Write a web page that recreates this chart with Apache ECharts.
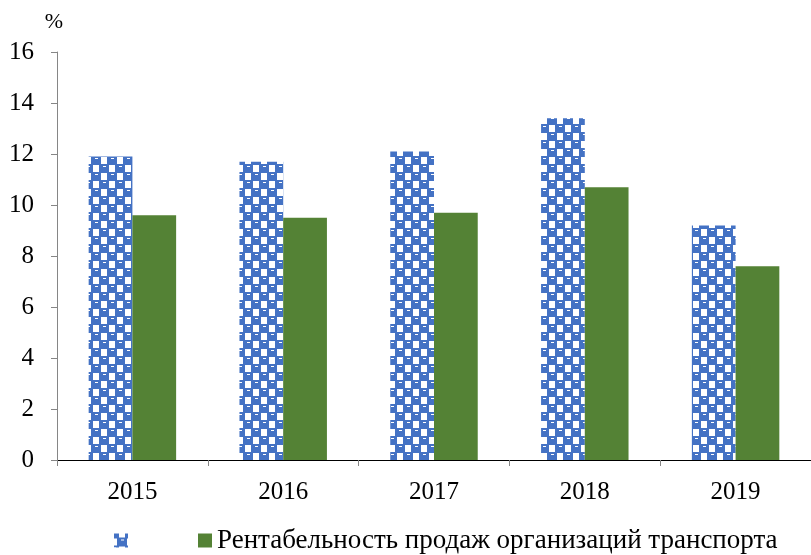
<!DOCTYPE html>
<html>
<head>
<meta charset="utf-8">
<script src="https://cdn.jsdelivr.net/npm/echarts@6/dist/echarts.min.js"></script>
<style>
html,body{margin:0;padding:0;background:#fff;}
#chart{width:811px;height:555px;}
</style>
</head>
<body>
<div id="chart"></div>
<script>
var categories = ['2015', '2016', '2017', '2018', '2019'];
var seriesNames = ['Рентабельность активов организаций транспорта', 'Рентабельность продаж организаций транспорта'];
var valuesA = [11.9, 11.7, 12.1, 13.4, 9.2];
var valuesB = [9.6, 9.5, 9.7, 10.7, 7.6];
var yTicks = [0, 2, 4, 6, 8, 10, 12, 14, 16];

function makePattern() {
  var c = document.createElement('canvas');
  c.width = 16; c.height = 16;
  var g = c.getContext('2d');
  g.fillStyle = '#ffffff';
  g.fillRect(0, 0, 16, 16);
  g.fillStyle = '#4472C4';
  var cells = [[0, 0], [8, 8], [16, 0], [0, 16], [16, 16], [-8, 8], [8, -8], [24, 8], [8, 24]];
  cells.forEach(function (p) {
    g.fillRect(p[0] - 5, p[1] - 4, 10, 9);
  });
  g.fillStyle = '#ffffff';
  cells.forEach(function (p) {
    g.fillRect(p[0] - 1, p[1] - 2, 3, 1);
  });
  return c;
}
var pattern = { image: makePattern(), repeat: 'repeat' };

var chart = echarts.init(document.getElementById('chart'), null, { renderer: 'canvas' });
var font = '"Liberation Serif", "Times New Roman", serif';
chart.setOption({
  animation: false,
  textStyle: { fontFamily: font },
  grid: { left: 57, right: -4, top: 52, bottom: 95, containLabel: false },
  legend: {
    top: 522,
    left: 109,
    itemWidth: 14,
    itemHeight: 14,
    itemGap: 70,
    icon: 'rect',
    textStyle: { fontFamily: font, fontSize: 27, color: '#000' },
    formatter: function (name) { return name === seriesNames[0] ? '' : name; },
    data: seriesNames
  },
  xAxis: {
    type: 'category',
    data: categories,
    axisLine: { lineStyle: { color: '#000', width: 1 } },
    axisTick: { show: true, length: 6, lineStyle: { color: '#868686' } },
    axisLabel: { fontFamily: font, fontSize: 25, color: '#000', margin: 20 }
  },
  yAxis: {
    type: 'value',
    min: 0,
    max: 16,
    interval: 2,
    name: '%',
    nameLocation: 'end',
    nameGap: 19,
    nameTextStyle: { fontFamily: font, fontSize: 22, color: '#000', align: 'center', padding: [0, 0, 0, -6] },
    axisLine: { show: true, lineStyle: { color: '#868686' } },
    axisTick: { show: true, length: 6, lineStyle: { color: '#868686' } },
    splitLine: { show: false },
    axisLabel: {
      fontFamily: font, fontSize: 25, color: '#000', margin: 23,
      formatter: function (v) { return yTicks.indexOf(v) >= 0 ? String(v) : ''; }
    }
  },
  series: [
    {
      name: seriesNames[0],
      type: 'bar',
      data: valuesA,
      barWidth: '29%',
      barGap: '0%',
      itemStyle: { color: pattern }
    },
    {
      name: seriesNames[1],
      type: 'bar',
      data: valuesB,
      barWidth: '29%',
      itemStyle: { color: '#548235' }
    }
  ]
});
</script>
</body>
</html>
